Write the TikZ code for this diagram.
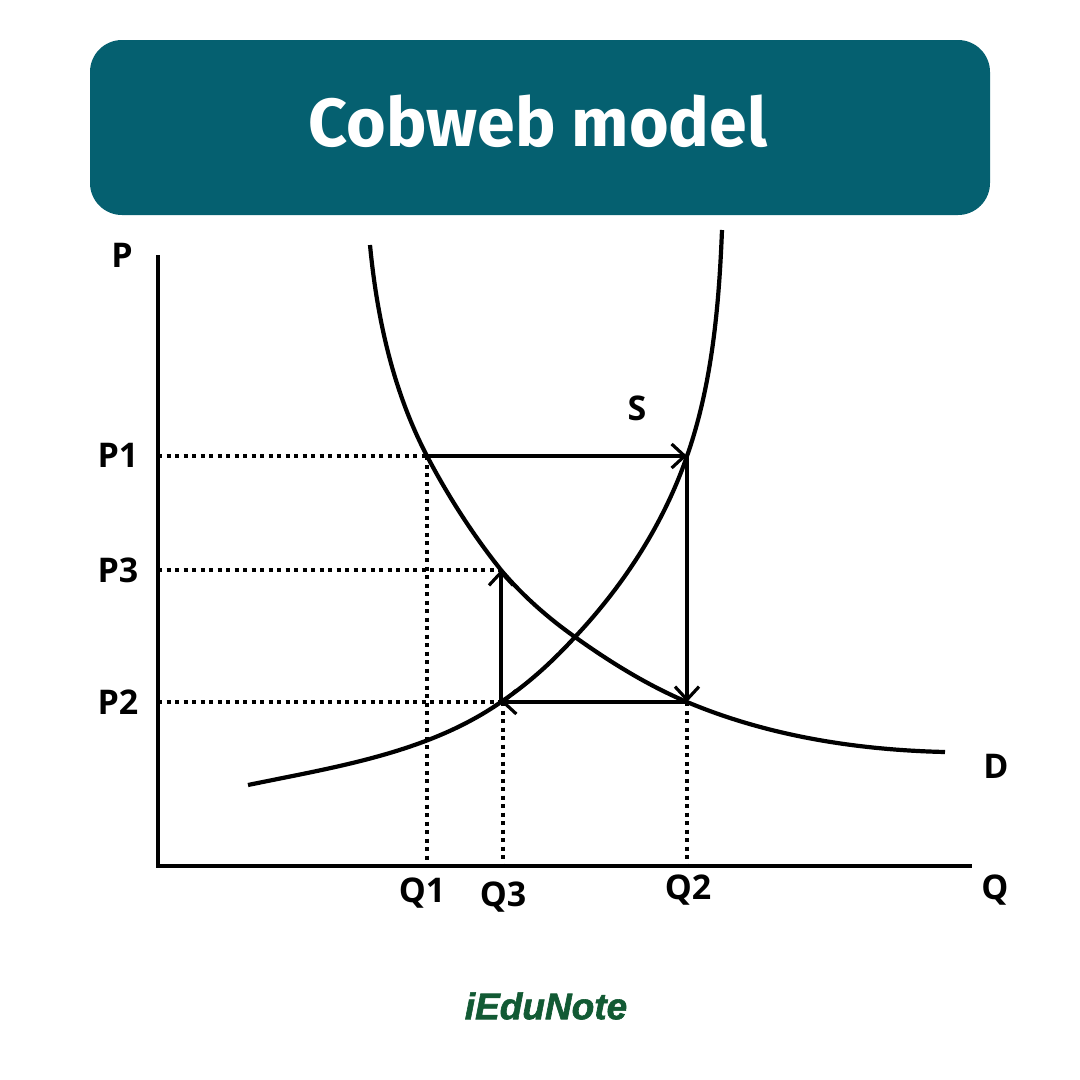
\documentclass[tikz,border=0pt]{standalone}
\usepackage{fontspec}
\setmainfont{Open Sans}
\newfontfamily\titlefont{Fira Sans}
\newfontfamily\logofont{Liberation Sans}[BoldItalicFeatures={FakeBold=1.6}]
\usetikzlibrary{arrows.meta}
\definecolor{teal1}{HTML}{056070}
\definecolor{logogreen}{HTML}{125A34}
\begin{document}
\begin{tikzpicture}[x=1pt,y=-1pt,
  lab/.style={font=\fontsize{34}{36}\selectfont\bfseries, inner sep=0pt},
  curve/.style={line width=4.2pt},
  axis/.style={line width=4.2pt},
  web/.style={line width=4pt, -{Straight Barb[length=13pt,width=24pt,line width=3.2pt]}},
  guide/.style={line width=4pt, dash pattern=on 4pt off 4.5pt}]
\useasboundingbox[fill=white] (0,0) rectangle (1080,1080);
% title
\node[fill=teal1, rounded corners=32pt, minimum width=900pt, minimum height=175pt, inner sep=0pt] (titlebox) at (540,127.5) {};
\node[text=white, font=\titlefont\fontsize{68}{70}\selectfont\bfseries, inner sep=0pt] (title) at (538,121) {Cobweb model};
% key points
\coordinate (O) at (158,866);
\coordinate (Ytop) at (158,255);
\coordinate (Xend) at (972,866);
\coordinate (A) at (427,456);
\coordinate (B) at (687,456);
\coordinate (C) at (687,702);
\coordinate (E) at (501,702);
\coordinate (F) at (501,570);
\coordinate (X) at (575,637);
\coordinate (yP1) at (158,456);
\coordinate (yP3) at (158,570);
\coordinate (yP2) at (158,702);
\coordinate (xQ1) at (427,866);
\coordinate (xQ3) at (503,866);
\coordinate (xQ2) at (687,866);
\coordinate (D0) at (370,245);
\coordinate (D1) at (945,752);
\coordinate (S0) at (248,785);
\coordinate (S1) at (722,230);
% guides
\draw[guide] (yP1) -- (A);
\draw[guide] (yP3) -- (F);
\draw[guide] (yP2) -- (E);
\draw[guide] (A) -- (xQ1);
\draw[guide] (503,702) -- (xQ3);
\draw[guide] (C) -- (xQ2);
% axes
\draw[axis] (Ytop) -- (O) -- (Xend);
% demand
\draw[curve] (D0) .. controls (377,318) and (393,391) .. (A)
  .. controls (448,496) and (473,535) .. (F)
  .. controls (522,595) and (548,618) .. (X)
  .. controls (610,662) and (647,685) .. (C)
  .. controls (768,736) and (857,750) .. (D1);
% supply
\draw[curve] (S0) .. controls (335,767) and (428,753) .. (E)
  .. controls (529,683) and (552,662) .. (X)
  .. controls (624,585) and (664,523) .. (B)
  .. controls (712,385) and (719,306) .. (S1);
% cobweb
\draw[web] (A) -- (B);
\draw[web] (B) -- (C);
\draw[web] (C) -- (E);
\draw[web] (E) -- (F);
% labels
\node[lab] (P) at (122,255) {P};
\node[lab] (P1) at (118,455) {P1};
\node[lab] (P3) at (118,570) {P3};
\node[lab] (P2) at (118,702) {P2};
\node[lab] (Q1) at (422,893) {Q1};
\node[lab] (Q3) at (503,897) {Q3};
\node[lab] (Q2) at (688,890) {Q2};
\node[lab] (Q) at (995,890) {Q};
\node[lab] (D) at (996,766) {D};
\node[lab] (S) at (637,408) {S};
\node[font=\logofont\fontsize{37}{40}\selectfont\bfseries\itshape, text=logogreen, inner sep=0pt] (logo) at (546,1006) {iEduNote};
\end{tikzpicture}
\end{document}
